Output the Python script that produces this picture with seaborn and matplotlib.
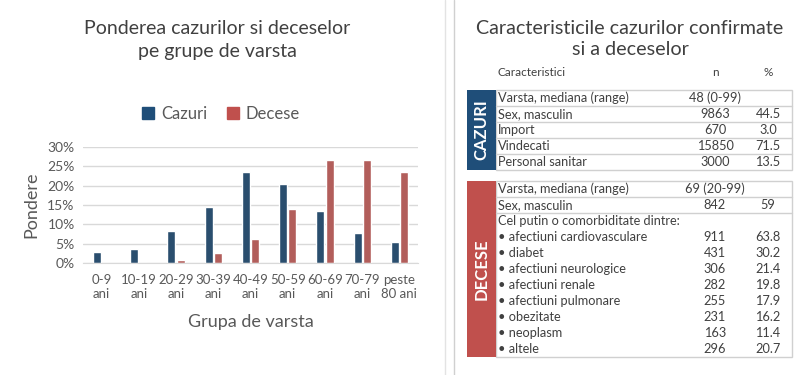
import numpy as np
import pandas as pd
import matplotlib
matplotlib.use("Agg")
import matplotlib.pyplot as plt
from matplotlib.patches import Rectangle, Patch
from matplotlib.ticker import FuncFormatter
import seaborn as sns

# date grafic
grupe = ["0-9\nani", "10-19\nani", "20-29\nani", "30-39\nani", "40-49\nani",
         "50-59\nani", "60-69\nani", "70-79\nani", "peste\n80 ani"]
cazuri = [2.8, 3.7, 8.3, 14.4, 23.5, 20.5, 13.5, 7.8, 5.4]
decese = [0.0, 0.0, 0.8, 2.6, 6.1, 14.0, 26.7, 26.6, 23.5]

# date tabel
caz_labels = ["Varsta, mediana (range)", "Sex, masculin", "Import", "Vindecati", "Personal sanitar"]
caz_n = ["48 (0-99)", "9863", "670", "15850", "3000"]
caz_pct = ["", "44.5", "3.0", "71.5", "13.5"]
dec_labels = ["Varsta, mediana (range)", "Sex, masculin", "Cel putin o comorbiditate dintre:",
              "• afectiuni cardiovasculare", "• diabet", "• afectiuni neurologice",
              "• afectiuni renale", "• afectiuni pulmonare", "• obezitate",
              "• neoplasm", "• altele"]
dec_n = ["69 (20-99)", "842", "", "911", "431", "306", "282", "255", "231", "163", "296"]
dec_pct = ["", "59", "", "63.8", "30.2", "21.4", "19.8", "17.9", "16.2", "11.4", "20.7"]

BLUE = "#1F4E79"
RED = "#C0504D"
TXT = "#404040"
GRID = "#D9D9D9"

sns.set_style("white")
plt.rcParams["font.family"] = ["Lato", "DejaVu Sans"]

df = pd.DataFrame({
    "grupa": grupe * 2,
    "val": cazuri + decese,
    "serie": ["Cazuri"] * len(grupe) + ["Decese"] * len(grupe),
})

fig = plt.figure(figsize=(8, 3.75), dpi=100)
W, H = 800, 375
ax = fig.add_axes([83 / W, 1 - 263 / H, 335 / W, 116 / H])
sns.barplot(data=df, x="grupa", y="val", hue="serie", palette=[BLUE, RED],
            width=0.5, gap=0.14, ax=ax, legend=False)
ax.set_ylim(0, 30)
ax.set_yticks(range(0, 31, 5))
ax.yaxis.set_major_formatter(FuncFormatter(lambda v, p: f"{v:.0f}%"))
ax.grid(axis="y", color=GRID, lw=1)
ax.set_axisbelow(True)
for s in ax.spines.values():
    s.set_visible(False)
ax.spines["bottom"].set_visible(True)
ax.spines["bottom"].set_color(GRID)
ax.tick_params(axis="both", length=0, labelsize=10, colors="#595959", pad=6)
ax.tick_params(axis="x", labelsize=9.5, pad=8)
ax.set_xlabel("Grupa de varsta", fontsize=13, color="#595959", labelpad=10)
ax.set_ylabel("Pondere", fontsize=13, color="#595959", labelpad=6)
for t in ax.get_xticklabels():
    t.set_linespacing(1.2)

fig.legend(handles=[Patch(color=BLUE, label="Cazuri"), Patch(color=RED, label="Decese")],
           loc="center", bbox_to_anchor=(221 / W, 1 - 114 / H), ncol=2, frameon=False,
           fontsize=12, handlelength=0.7, handleheight=0.7, handletextpad=0.4,
           columnspacing=1.2, labelcolor="#595959")

fig.text(217 / W, 1 - 40 / H, "Ponderea cazurilor si deceselor\npe grupe de varsta",
         ha="center", va="center", fontsize=14, color=TXT, linespacing=1.4)

# panou dreapta, in coordonate pixel
ov = fig.add_axes([0, 0, 1, 1])
ov.set_xlim(0, W)
ov.set_ylim(H, 0)
ov.axis("off")
ov.plot([445, 445], [0, H], color="#E3E3E3", lw=1)
ov.plot([454, 454], [0, H], color="#D0D0D0", lw=1)

ov.text(630, 39, "Caracteristicile cazurilor confirmate\nsi a deceselor", ha="center",
        va="center", fontsize=14.2, color=TXT, linespacing=1.35)
ov.text(498, 72, "Caracteristici", ha="left", va="center", fontsize=8.5, color=TXT)
ov.text(715, 72, "n", ha="center", va="center", fontsize=8.5, color=TXT)
ov.text(768, 72, "%", ha="center", va="center", fontsize=8.5, color=TXT)

x0, xl, x1 = 467, 496, 792
rh = 16


def bloc(top, labels, ns, pcts, color, name, nlines):
    bottom = top + rh * len(labels)
    ov.add_patch(Rectangle((xl, top), x1 - xl, bottom - top, fc="white",
                           ec="#D0D0D0", lw=1))
    ov.add_patch(Rectangle((x0, top), xl - x0, bottom - top, fc=color, ec="none"))
    for i in range(1, nlines):
        ov.plot([xl, x1], [top + rh * i] * 2, color="#D0D0D0", lw=1)
    for i, (lab, n, p) in enumerate(zip(labels, ns, pcts)):
        y = top + rh * i + rh / 2
        ov.text(498, y, lab, ha="left", va="center", fontsize=9.2, color=TXT)
        ov.text(715, y, n, ha="center", va="center", fontsize=9.2, color=TXT)
        ov.text(768, y, p, ha="center", va="center", fontsize=9.2, color=TXT)
    ov.text((x0 + xl) / 2, (top + bottom) / 2, name, rotation=90, ha="center",
            va="center", fontsize=12, color="white", fontweight="bold")


bloc(90, caz_labels, caz_n, caz_pct, BLUE, "CAZURI", len(caz_labels))
bloc(181, dec_labels, dec_n, dec_pct, RED, "DECESE", 3)

fig.savefig("out.png", dpi=100)
